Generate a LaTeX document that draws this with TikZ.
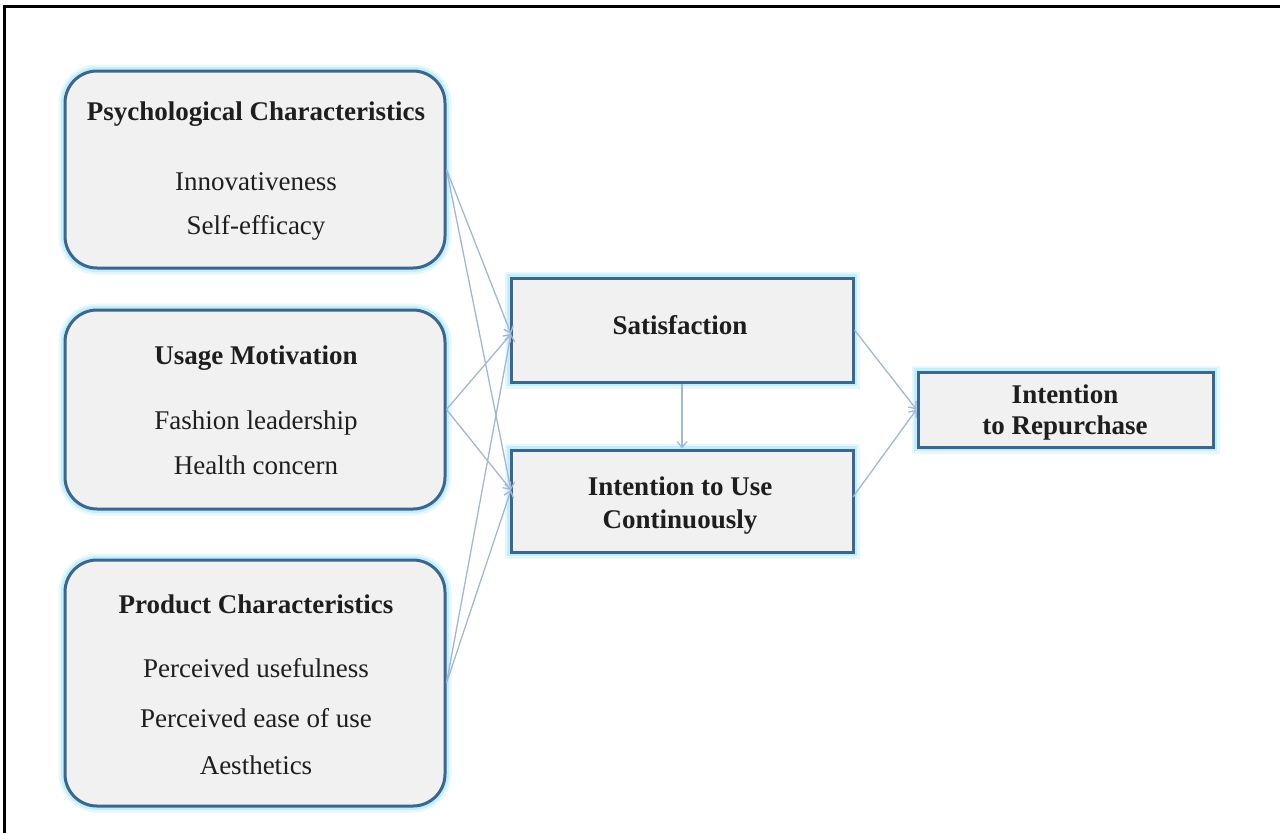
\documentclass[tikz,border=0pt]{standalone}
\usepackage{fontspec}
\setmainfont{Liberation Serif}
\newfontfamily\tnr{Liberation Serif}
\usetikzlibrary{arrows.meta}
\definecolor{bordc}{HTML}{3A678F}
\definecolor{glowc}{HTML}{C4EEFB}
\definecolor{boxfill}{HTML}{F1F1F2}
\definecolor{arrc}{HTML}{A3B5D9}
\definecolor{txtc}{HTML}{1E1E1E}
\begin{document}
\begin{tikzpicture}[x=1pt,y=-1pt,
  glowbox/.style={preaction={draw=glowc!40,line width=13pt},preaction={draw=glowc,line width=8pt},
    draw=bordc,line width=3pt,fill=boxfill,rectangle,inner sep=0pt},
  roundbox/.style={glowbox,rounded corners=32pt,minimum width=380pt},
  sqbox/.style={glowbox},
  ttl/.style={font=\tnr\fontsize{27}{30}\selectfont\bfseries,text=txtc,anchor=base,inner sep=0pt},
  itm/.style={font=\tnr\fontsize{27}{30}\selectfont,text=txtc,anchor=base,inner sep=0pt},
  arr/.style={draw=arrc,line width=1.3pt,-{Straight Barb[length=6pt,width=10pt]}}
]
\useasboundingbox (0,0) rectangle (1280,833);
\draw[line width=3pt,black] (4.5,833) -- (4.5,6.5) -- (1280,6.5);

% boxes
\node[roundbox,minimum height=197pt] (psych) at (255,169.5) {};
\node[roundbox,minimum height=199pt] (usage) at (255,409.5) {};
\node[roundbox,minimum height=246pt] (prod) at (255,683) {};
\node[sqbox,minimum width=342pt,minimum height=104pt] (sat) at (682,330) {};
\node[sqbox,minimum width=342pt,minimum height=102pt] (int) at (682,501) {};
\node[sqbox,minimum width=295pt,minimum height=75pt] (rep) at (1065.5,409.5) {};

% texts
\node[ttl] (t1) at (256,120) {Psychological Characteristics};
\node[itm] (i11) at (256,190) {Innovativeness};
\node[itm] (i12) at (256,234) {Self-efficacy};
\node[ttl] (t2) at (256,364) {Usage Motivation};
\node[itm] (i21) at (256,429) {Fashion leadership};
\node[itm] (i22) at (256,474) {Health concern};
\node[ttl] (t3) at (256,613) {Product Characteristics};
\node[itm] (i31) at (256,677) {Perceived usefulness};
\node[itm] (i32) at (256,727) {Perceived ease of use};
\node[itm] (i33) at (256,774) {Aesthetics};
\node[ttl] (t4) at (680,334) {Satisfaction};
\node[ttl] (t5) at (680,495) {Intention to Use};
\node[ttl] (t6) at (680,528) {Continuously};
\node[ttl] (t7) at (1065,403) {Intention};
\node[ttl] (t8) at (1065,434) {to Repurchase};

% connectors
\coordinate (satin) at (511,334);
\coordinate (intin) at (511,490);
\coordinate (intout) at (853,497);
\draw[arr] (psych.east) -- (satin);
\draw[arr] (psych.east) -- (intin);
\draw[arr] (usage.east) -- (satin);
\draw[arr] (usage.east) -- (intin);
\draw[arr] (prod.east) -- (satin);
\draw[arr] (prod.east) -- (intin);
\draw[arr] (sat.south) -- (int.north);
\draw[arr] (sat.east) -- (rep.west);
\draw[arr] (intout) -- (rep.west);
\end{tikzpicture}
\end{document}
